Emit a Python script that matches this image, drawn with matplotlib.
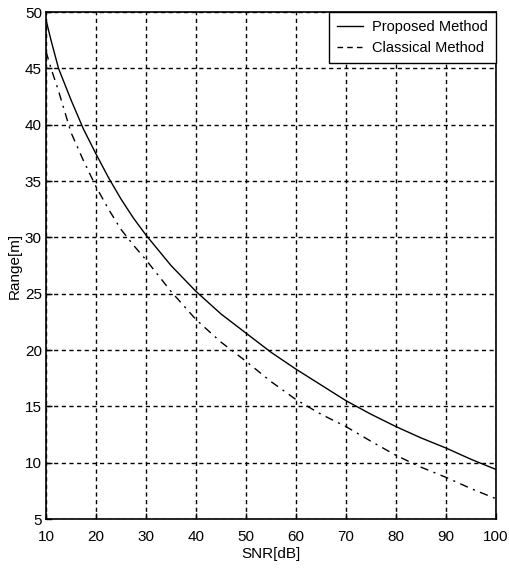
import matplotlib
matplotlib.use("Agg")
import matplotlib.pyplot as plt

# ── data ────────────────────────────────────────
snr = [10, 11, 12.5, 15, 17.5, 20, 22.5, 25, 27.5, 30, 35, 40, 45, 50,
       55, 60, 65, 70, 75, 80, 85, 90, 95, 100]
proposed = [49.3, 47.5, 45.0, 42.2, 39.6, 37.4, 35.3, 33.4, 31.7, 30.2, 27.5,
            25.2, 23.2, 21.5, 19.8, 18.3, 16.9, 15.5, 14.3, 13.2, 12.2, 11.3,
            10.3, 9.4]
classical = [46.5, 45.0, 43.0, 39.3, 36.8, 34.5, 32.5, 30.7, 29.3, 28.0, 25.2,
             22.7, 20.7, 19.0, 17.2, 15.6, 14.3, 13.2, 11.9, 10.65, 9.6, 8.7,
             7.7, 6.8]

xticks = list(range(10, 101, 10))
yticks = list(range(5, 51, 5))

plt.rcParams["font.family"] = ["Liberation Sans", "DejaVu Sans"]

fig = plt.figure(figsize=(5.09, 5.73), dpi=100)
ax = fig.add_axes([0.0904, 0.0942, 0.8841, 0.8848])

ax.plot(snr, proposed, color="black", lw=1.0, ls="-", label="Proposed Method")
ax.plot(snr, classical, color="black", lw=1.0, ls=(0, (6, 4, 1.5, 4)),
        label="Classical Method")

ax.set_xlim(10, 100)
ax.set_ylim(5, 50)
ax.set_xticks(xticks)
ax.set_yticks(yticks)
ax.tick_params(direction="in", length=4, labelsize=11, width=1)
ax.tick_params(axis="x", pad=8)
ax.tick_params(axis="y", pad=3)
ax.grid(True, color="black", ls=(0, (3, 2.5)), lw=1.0)

for sp in ax.spines.values():
    sp.set_linewidth(1.2)

ax.set_xlabel("SNR[dB]", fontsize=11, labelpad=2)
ax.set_ylabel("Range[m]", fontsize=11, labelpad=2)

leg = ax.legend(loc="upper right", borderaxespad=0, fancybox=False,
                framealpha=1, edgecolor="black", fontsize=10.5,
                handlelength=1.8, handletextpad=0.6, borderpad=0.55,
                labelspacing=0.45)
leg.get_frame().set_linewidth(1.0)
leg.get_lines()[1].set_linestyle((0, (4, 3)))

fig.savefig("out.png", dpi=100)
